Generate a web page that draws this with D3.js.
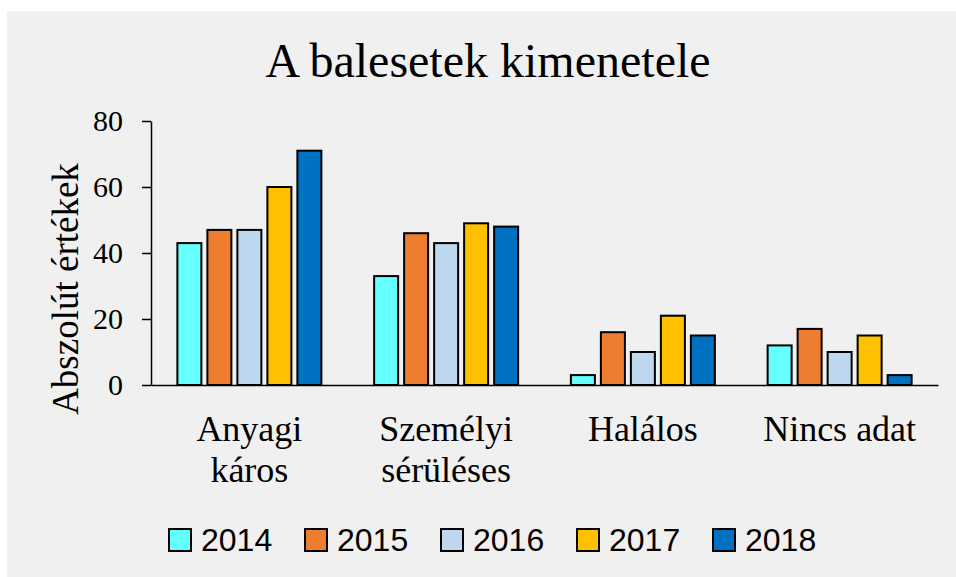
<!DOCTYPE html>
<html>
<head>
<meta charset="utf-8">
<script src="https://cdn.jsdelivr.net/npm/d3@7"></script>
<style>
  html, body { margin: 0; padding: 0; background: #fff; }
  svg { display: block; }
</style>
</head>
<body>
<div id="chart"></div>
<script>
// chart data
var categories = [["Anyagi", "káros"], ["Személyi", "sérüléses"], ["Halálos"], ["Nincs adat"]];
var years = ["2014", "2015", "2016", "2017", "2018"];
var values2014 = [43, 33, 3, 12];
var values2015 = [47, 46, 16, 17];
var values2016 = [47, 43, 10, 10];
var values2017 = [60, 49, 21, 15];
var values2018 = [71, 48, 15, 3];
var yTicks = [0, 20, 40, 60, 80];
var colors = ["#66ffff", "#ed7d31", "#bdd7ee", "#ffc000", "#0070c0"];

var series = [values2014, values2015, values2016, values2017, values2018];
var catNames = categories.map(function (c) { return c.join(" "); });

var width = 956, height = 577;
var serif = "'Liberation Serif', 'Times New Roman', serif";
var sans = "'Liberation Sans', Arial, sans-serif";

var svg = d3.select("#chart").append("svg")
  .attr("width", width)
  .attr("height", height);

// chart area background
svg.append("rect")
  .attr("x", 7).attr("y", 11)
  .attr("width", width - 7).attr("height", height - 11)
  .attr("fill", "#f0f0f0");

svg.append("text")
  .attr("x", 488).attr("y", 77)
  .attr("text-anchor", "middle")
  .attr("font-family", serif)
  .attr("font-size", 48)
  .attr("fill", "#000")
  .text("A balesetek kimenetele");

var x0 = d3.scaleBand()
  .domain(catNames)
  .range([151, 938]);

var x1 = d3.scaleBand()
  .domain(years)
  .range([0, 144])
  .paddingInner(0.2);

var y = d3.scaleLinear()
  .domain([0, 80])
  .range([385, 121]);

// bars
years.forEach(function (yr, i) {
  svg.append("g").selectAll("rect")
    .data(series[i])
    .enter()
    .append("rect")
    .attr("x", function (d, j) {
      return x0(catNames[j]) + (x0.bandwidth() - 144) / 2 + x1(yr);
    })
    .attr("y", function (d) { return y(d); })
    .attr("width", x1.bandwidth())
    .attr("height", function (d) { return y(0) - y(d); })
    .attr("fill", colors[i])
    .attr("stroke", "#000")
    .attr("stroke-width", 2);
});

// y axis
var yAxis = svg.append("g")
  .attr("transform", "translate(151,0)")
  .call(d3.axisLeft(y).tickValues(yTicks).tickSize(9).tickSizeOuter(0).tickPadding(19));
yAxis.attr("font-family", serif).attr("font-size", 30);
yAxis.select(".domain").attr("stroke", "#000").attr("stroke-width", 1.5);
yAxis.selectAll(".tick line").attr("stroke", "#000").attr("stroke-width", 1.5);
yAxis.selectAll(".tick text")
  .attr("dy", "0.33em")
  .attr("fill", "#000");

// x axis
var xAxis = svg.append("g")
  .attr("transform", "translate(0,385)")
  .call(d3.axisBottom(x0).tickSize(0).tickSizeOuter(0).tickFormat(""));
xAxis.select(".domain").attr("stroke", "#000").attr("stroke-width", 1.5);

categories.forEach(function (lines, j) {
  var t = svg.append("text")
    .attr("text-anchor", "middle")
    .attr("font-family", serif)
    .attr("font-size", 36)
    .attr("fill", "#000");
  lines.forEach(function (ln, k) {
    t.append("tspan")
      .attr("x", x0(catNames[j]) + x0.bandwidth() / 2)
      .attr("y", 441 + k * 41)
      .text(ln);
  });
});

// y label
svg.append("text")
  .attr("transform", "translate(78,289) rotate(-90)")
  .attr("text-anchor", "middle")
  .attr("font-family", serif)
  .attr("font-size", 37)
  .attr("fill", "#000")
  .text("Abszolút értékek");

// legend
var legend = svg.append("g");
years.forEach(function (yr, i) {
  var lx = 169 + i * 136;
  legend.append("rect")
    .attr("x", lx).attr("y", 529)
    .attr("width", 22).attr("height", 22)
    .attr("fill", colors[i])
    .attr("stroke", "#000")
    .attr("stroke-width", 2);
  legend.append("text")
    .attr("x", lx + 32).attr("y", 551)
    .attr("font-family", sans)
    .attr("font-size", 32)
    .attr("fill", "#000")
    .text(yr);
});
</script>
</body>
</html>
